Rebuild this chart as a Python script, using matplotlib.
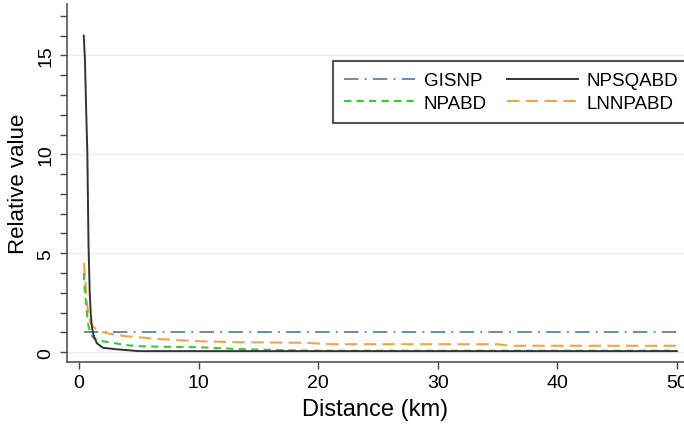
import matplotlib
matplotlib.use("Agg")
import matplotlib.pyplot as plt
from matplotlib.ticker import MultipleLocator

plt.rcParams['font.family'] = ['Liberation Sans', 'DejaVu Sans']

# distance (km) and relative value of each index
dist = [0.4, 0.5, 0.6, 0.7, 0.8, 0.9, 1.0, 1.1, 1.25, 1.5, 2, 3, 4, 5, 7, 10,
        13.5, 19, 21, 25, 30, 35, 36, 40, 45, 50]
gisnp = [1.0] * len(dist)
npsqabd = [16.0, 14.8, 12.3, 10.1, 5.4, 3.0, 1.8, 1.2, 0.8, 0.45, 0.22, 0.15,
           0.1, 0.05, 0.05, 0.05, 0.05, 0.05, 0.05, 0.05, 0.05, 0.05, 0.05,
           0.05, 0.05, 0.05]
npabd = [4.0, 3.0, 2.4, 1.8, 1.3, 1.1, 0.95, 0.8, 0.7, 0.62, 0.55, 0.45, 0.35,
         0.3, 0.27, 0.25, 0.15, 0.08, 0.07, 0.07, 0.07, 0.07, 0.07, 0.07, 0.07,
         0.07]
lnnpabd = [4.5, 3.9, 3.0, 2.3, 1.9, 1.6, 1.45, 1.35, 1.25, 1.15, 1.0, 0.88,
           0.8, 0.75, 0.65, 0.55, 0.5, 0.47, 0.4, 0.4, 0.4, 0.4, 0.32, 0.32,
           0.32, 0.32]

fig = plt.figure(figsize=(6.84, 4.27), dpi=100)
ax = fig.add_axes([67/684, 1 - 363/427, 617/684, 358/427])

for v in [0, 5, 10, 15]:
    ax.axhline(v, color='#e6eff2', lw=1, zorder=0)

l1, = ax.plot(dist, gisnp, color='#5b82ad', lw=1.3, dashes=(8, 3.5, 1, 3.5), label='GISNP')
l3, = ax.plot(dist, lnnpabd, color='#f0a54a', lw=1.5, dashes=(6, 3), label='LNNPABD')
l2, = ax.plot(dist, npabd, color='#3cc83c', lw=1.5, dashes=(3.5, 2.5), label='NPABD')
l4, = ax.plot(dist, npsqabd, color='#333333', lw=1.4, label='NPSQABD')

ax.set_xlim(-1, 50.6)
ax.set_ylim(-0.5, 17.6)
ax.set_xticks([0, 10, 20, 30, 40, 50])
ax.set_yticks([0, 5, 10, 15])
ax.yaxis.set_minor_locator(MultipleLocator(1))
ax.tick_params(axis='both', which='both', direction='out', length=5,
               width=1, color='#444444', labelsize=14, pad=4)
ax.tick_params(axis='y', which='minor', length=5)
for lab in ax.get_yticklabels():
    lab.set_rotation(90)
    lab.set_va('center')

for s in ['top', 'right']:
    ax.spines[s].set_visible(False)
for s in ['left', 'bottom']:
    ax.spines[s].set_color('#555555')
    ax.spines[s].set_linewidth(1.2)

ax.set_xlabel('Distance (km)', fontsize=17, labelpad=5)
ax.set_ylabel('Relative value', fontsize=16, labelpad=6)

leg = ax.legend([l1, l2, l4, l3], ['GISNP', 'NPABD', 'NPSQABD', 'LNNPABD'],
                ncol=2, loc='upper left', bbox_to_anchor=(0.431, 0.841),
                borderaxespad=0, fontsize=13.5, handlelength=3.8,
                handletextpad=0.45, columnspacing=1.05, labelspacing=0.3,
                borderpad=0.6, fancybox=False, framealpha=1)
leg.get_frame().set_edgecolor('#555555')
leg.get_frame().set_linewidth(1.5)

fig.savefig('out.png', dpi=100)
